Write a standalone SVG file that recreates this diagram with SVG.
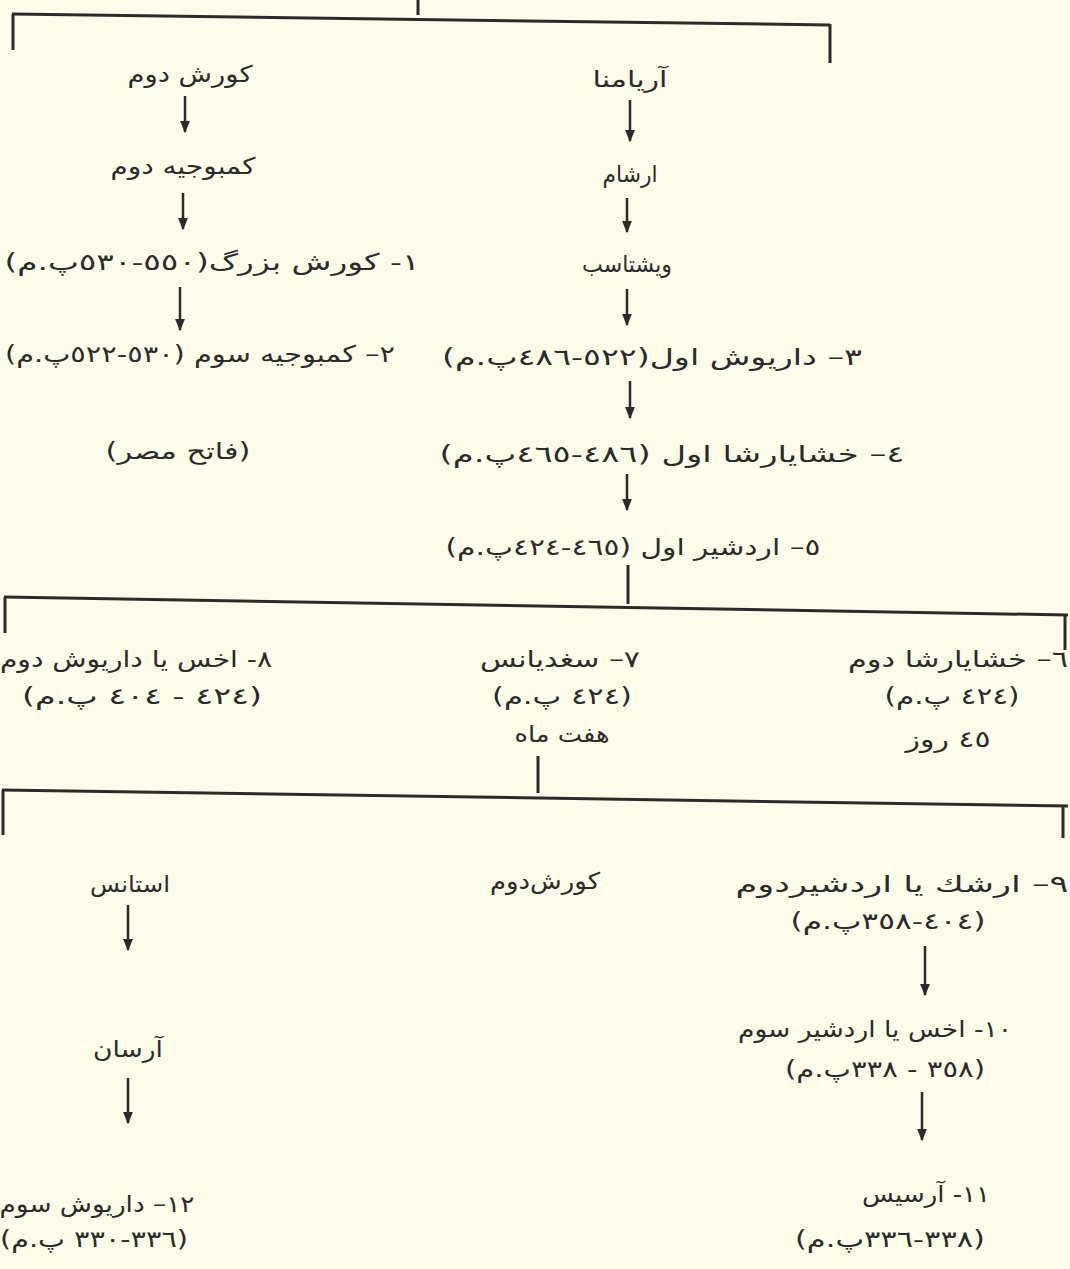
<svg xmlns="http://www.w3.org/2000/svg" width="1070" height="1269" viewBox="0 0 1070 1269">
<style>
  .t { font-family: "DejaVu Sans", "Noto Sans", sans-serif; font-size: 23px; fill: #2b2b2b; direction: rtl; text-anchor: middle; }
  .ln { stroke: #2b2b2b; stroke-width: 3; fill: none; }
  .ar { stroke: #2b2b2b; stroke-width: 2.5; fill: none; marker-end: url(#ah); }
</style>
<defs>
  <marker id="ah" viewBox="0 0 10 10" refX="9" refY="5" markerWidth="5" markerHeight="5" orient="auto" markerUnits="strokeWidth">
    <path d="M0,1 L10,5 L0,9 Z" fill="#2b2b2b"/>
  </marker>
</defs>
<rect width="1070" height="1269" fill="#fdfce9"/>

<g id="connectors">
  <line class="ln" x1="418" y1="0" x2="418" y2="15"/>
  <line class="ln" x1="12" y1="14" x2="830" y2="25"/>
  <line class="ln" x1="13" y1="14" x2="13" y2="50"/>
  <line class="ln" x1="830" y1="24" x2="830" y2="63"/>
  <line class="ar" x1="185" y1="96" x2="185" y2="132"/>
  <line class="ar" x1="183" y1="193" x2="183" y2="229"/>
  <line class="ar" x1="180" y1="287" x2="180" y2="330"/>
  <line class="ar" x1="630" y1="100" x2="630" y2="141"/>
  <line class="ar" x1="627" y1="198" x2="627" y2="232"/>
  <line class="ar" x1="627" y1="289" x2="627" y2="325"/>
  <line class="ar" x1="630" y1="381" x2="630" y2="418"/>
  <line class="ar" x1="627" y1="474" x2="627" y2="510"/>
  <line class="ln" x1="628" y1="565" x2="628" y2="604"/>
  <line class="ln" x1="4" y1="597" x2="1068" y2="615"/>
  <line class="ln" x1="5" y1="597" x2="5" y2="633"/>
  <line class="ln" x1="1065" y1="615" x2="1065" y2="650"/>
  <line class="ln" x1="538" y1="756" x2="538" y2="793"/>
  <line class="ln" x1="2" y1="790" x2="1068" y2="806"/>
  <line class="ln" x1="3" y1="790" x2="3" y2="835"/>
  <line class="ln" x1="1063" y1="806" x2="1063" y2="838"/>
  <line class="ar" x1="128" y1="905" x2="128" y2="950"/>
  <line class="ar" x1="128" y1="1078" x2="128" y2="1123"/>
  <line class="ar" x1="925" y1="946" x2="925" y2="995"/>
  <line class="ar" x1="922" y1="1092" x2="922" y2="1140"/>
</g>

<g id="n-kurosh2"><text class="t" x="190" y="82" textLength="125" lengthAdjust="spacingAndGlyphs">کورش دوم</text></g>
<g id="n-kambujiye2"><text class="t" x="183" y="174" textLength="145" lengthAdjust="spacingAndGlyphs">کمبوجیه دوم</text></g>
<g id="n-kurosh-bozorg"><text class="t" x="212" y="270" textLength="415" lengthAdjust="spacingAndGlyphs">١- کورش بزرگ(٥٥٠-٥٣٠پ.م)</text></g>
<g id="n-kambujiye3"><text class="t" x="200" y="362" textLength="390" lengthAdjust="spacingAndGlyphs">٢– کمبوجیه سوم (٥٣٠-٥٢٢پ.م)</text>
  <text class="t" x="178" y="459" textLength="145" lengthAdjust="spacingAndGlyphs">(فاتح مصر)</text></g>

<g id="n-ariyamna"><text class="t" x="630" y="87" textLength="75" lengthAdjust="spacingAndGlyphs">آریامنا</text></g>
<g id="n-arsham"><text class="t" x="630" y="182" textLength="55" lengthAdjust="spacingAndGlyphs">ارشام</text></g>
<g id="n-vishtasb"><text class="t" x="627" y="272" textLength="90" lengthAdjust="spacingAndGlyphs">ویشتاسب</text></g>
<g id="n-dariush1"><text class="t" x="652" y="365" textLength="420" lengthAdjust="spacingAndGlyphs">٣– داریوش اول(٥٢٢-٤٨٦پ.م)</text></g>
<g id="n-khashayarsha1"><text class="t" x="672" y="462" textLength="465" lengthAdjust="spacingAndGlyphs">٤– خشایارشا اول (٤٨٦-٤٦٥پ.م)</text></g>
<g id="n-ardeshir1"><text class="t" x="633" y="555" textLength="375" lengthAdjust="spacingAndGlyphs">٥– اردشیر اول (٤٦٥-٤٢٤پ.م)</text></g>

<g id="n-okhos-dariush2"><text class="t" x="136" y="667" textLength="272" lengthAdjust="spacingAndGlyphs">٨- اخس یا داریوش دوم</text>
  <text class="t" x="142" y="704" textLength="240" lengthAdjust="spacingAndGlyphs">(٤٢٤ - ٤٠٤ پ.م)</text></g>
<g id="n-soghdianos"><text class="t" x="560" y="667" textLength="160" lengthAdjust="spacingAndGlyphs">٧– سغدیانس</text>
  <text class="t" x="562" y="704" textLength="140" lengthAdjust="spacingAndGlyphs">(٤٢٤ پ.م)</text>
  <text class="t" x="562" y="742" textLength="95" lengthAdjust="spacingAndGlyphs">هفت ماه</text></g>
<g id="n-khashayarsha2"><text class="t" x="958" y="667" textLength="220" lengthAdjust="spacingAndGlyphs">٦– خشایارشا دوم</text>
  <text class="t" x="952" y="704" textLength="135" lengthAdjust="spacingAndGlyphs">(٤٢٤ پ.م)</text>
  <text class="t" x="948" y="747" textLength="85" lengthAdjust="spacingAndGlyphs">٤٥ روز</text></g>

<g id="n-ostanes"><text class="t" x="130" y="892" textLength="80" lengthAdjust="spacingAndGlyphs">استانس</text></g>
<g id="n-arsan"><text class="t" x="128" y="1057" textLength="70" lengthAdjust="spacingAndGlyphs">آرسان</text></g>
<g id="n-dariush3"><text class="t" x="97" y="1212" textLength="195" lengthAdjust="spacingAndGlyphs">١٢– داریوش سوم</text>
  <text class="t" x="94" y="1247" textLength="188" lengthAdjust="spacingAndGlyphs">(٣٣٦-٣٣٠ پ.م)</text></g>
<g id="n-kurosh2b"><text class="t" x="545" y="889" textLength="110" lengthAdjust="spacingAndGlyphs">کورش‌دوم</text></g>
<g id="n-arshak"><text class="t" x="902" y="892" textLength="333" lengthAdjust="spacingAndGlyphs">٩– ارشك یا اردشیردوم</text>
  <text class="t" x="888" y="929" textLength="195" lengthAdjust="spacingAndGlyphs">(٤٠٤-٣٥٨پ.م)</text></g>
<g id="n-okhos-ardeshir3"><text class="t" x="875" y="1037" textLength="274" lengthAdjust="spacingAndGlyphs">١٠- اخس یا اردشیر سوم</text>
  <text class="t" x="885" y="1077" textLength="200" lengthAdjust="spacingAndGlyphs">(٣٥٨ - ٣٣٨پ.م)</text></g>
<g id="n-arses"><text class="t" x="926" y="1202" textLength="128" lengthAdjust="spacingAndGlyphs">١١- آرسیس</text>
  <text class="t" x="890" y="1247" textLength="190" lengthAdjust="spacingAndGlyphs">(٣٣٨-٣٣٦پ.م)</text></g>
</svg>
